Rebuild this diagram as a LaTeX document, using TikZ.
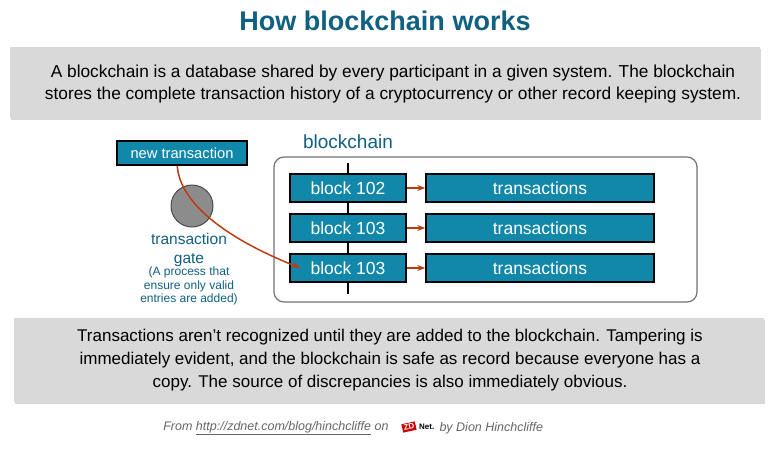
\documentclass[tikz,border=0pt]{standalone}
\usepackage{fontspec}
\setmainfont{Liberation Sans}
\usetikzlibrary{positioning, arrows.meta, shapes, calc, shadows}
\definecolor{teal}{RGB}{16,96,130}
\definecolor{blockblue}{RGB}{17,136,170}
\definecolor{panelgray}{RGB}{217,217,217}
\definecolor{linkred}{RGB}{190,60,20}
\begin{document}
\begin{tikzpicture}[
    x=1pt, y=-1pt,
    panel/.style={fill=panelgray, draw=none, drop shadow={shadow xshift=1pt, shadow yshift=-1.5pt, opacity=0.3}},
    block/.style={rectangle, draw=black, line width=1.5pt, fill=blockblue, text=white, font=\fontsize{17.5}{20}\selectfont, minimum height=28pt, inner sep=0pt},
    flow/.style={-{Stealth[length=8pt, width=6pt]}, draw=linkred, line width=1.5pt},
    label/.style={text=teal, align=center}
]
\useasboundingbox (0,0) rectangle (770,453);
\fill[white] (0,0) rectangle (770,453);

% Title
\node[text=teal, font=\fontsize{27}{30}\selectfont\bfseries] (title) at (385,21) {How blockchain works};

% Top panel
\fill[panel] (10,47) rectangle (760,118);
\node[align=center, font=\fontsize{17.3}{22}\selectfont] (intro) at (393,84) {A blockchain is a database shared by every participant in a given system. The blockchain\\stores the complete transaction history of a cryptocurrency or other record keeping system.};

% Blockchain frame
\node[label, font=\fontsize{19}{22}\selectfont] (chainlabel) at (348,142) {blockchain};
\draw[gray!90!black, line width=1.2pt, rounded corners=10pt] (274,157) rectangle (697,302);
\coordinate (spineTop) at (348,163);
\coordinate (spineBot) at (348,294);
\draw[line width=1.5pt] (spineTop) -- (spineBot);

% Blocks and transactions
\foreach \y/\t [count=\i] in {188/102, 228/103, 268/103} {
    \node[block, minimum width=116pt] (blk\i) at (348,\y) {block \t};
    \node[block, minimum width=228pt] (trx\i) at (540,\y) {transactions};
    \draw[flow] (blk\i.east) -- (trx\i.west);
}

% New transaction and gate
\node[block, minimum width=130pt, minimum height=24pt, font=\fontsize{14.7}{17}\selectfont] (newtx) at (182,153) {new transaction};
\node[circle, draw=black!70, line width=1pt, fill=gray!90, minimum size=42pt] (gate) at (192,206) {};
\node[label, font=\fontsize{15.5}{19}\selectfont] (gatelabel) at (189,250) {transaction\\gate};
\node[label, font=\fontsize{12}{13.5}\selectfont] (gatenote) at (189,286) {(A process that\\ensure only valid\\entries are added)};
\draw[flow] ($(newtx.south west)+(61,0)$) .. controls (180,205) and (230,240) .. ($(blk3.west)+(11,0)$);

% Bottom panel
\fill[panel] (14,318) rectangle (764,402);
\node[align=center, font=\fontsize{17}{23}\selectfont] (summary) at (390,360) {Transactions aren't recognized until they are added to the blockchain. Tampering is\\immediately evident, and the blockchain is safe as record because everyone has a\\copy. The source of discrepancies is also immediately obvious.};

% Footer
\node[text=gray!80!black, font=\fontsize{12.5}{14}\selectfont\itshape, anchor=east] (from) at (392,428) {From \underline{http://zdnet.com/blog/hinchcliffe} on};
\node[fill=red!80!black, text=white, rotate=12, font=\fontsize{8}{9}\selectfont\bfseries, inner sep=1.5pt] (zd) at (409,427) {ZD};
\node[font=\fontsize{8}{9}\selectfont\bfseries, anchor=west, inner sep=0pt] (net) at (419,427) {Net.};
\node[text=gray!80!black, font=\fontsize{12.5}{14}\selectfont\itshape, anchor=west] (by) at (436,428) {by Dion Hinchcliffe};
\end{tikzpicture}
\end{document}
